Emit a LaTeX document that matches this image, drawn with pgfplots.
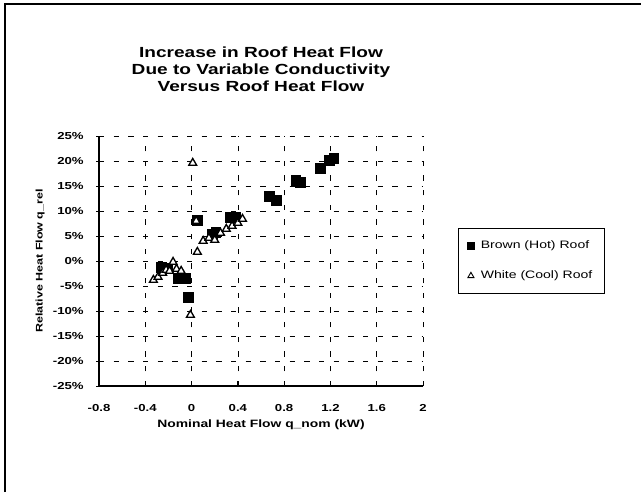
\documentclass[border=0pt]{standalone}
\usepackage{fontspec}
\setmainfont{Liberation Sans}[FakeStretch=1.3]
\usepackage{pgfplots}
\pgfplotsset{compat=1.18}
\begin{document}
\begin{tikzpicture}
    % page frame, 641x492 px at 0.75pt/px
    \path[use as bounding box] (0,0) rectangle (480.75pt,369pt);
    \draw[line width=1pt] (3.75pt,0) -- (3.75pt,366pt) -- (480.75pt,366pt);
    \begin{axis}[
        at = {(74.25pt,79.5pt)},
        anchor = south west,
        scale only axis,
        width = 243pt,
        height = 187.5pt,
        xmin = -0.8, xmax = 2,
        ymin = -25, ymax = 25,
        xtick = {-0.8,-0.4,0,0.4,0.8,1.2,1.6,2},
        xticklabels = {-0.8,-0.4,0,0.4,0.8,1.2,1.6,2},
        ytick = {-25,-20,...,25},
        yticklabels = {-25\%,-20\%,-15\%,-10\%,-5\%,0\%,5\%,10\%,15\%,20\%,25\%},
        axis x line* = bottom,
        axis y line* = left,
        x tick style = {black, line width=0.6pt},
        y tick style = {black, line width=0.6pt},
        xtick align = inside,
        ytick align = center,
        major tick length = 4pt,
        grid = major,
        major grid style = {black, line width=0.5pt, dash pattern=on 4pt off 7pt},
        axis line style = {line width=0.8pt},
        tick label style = {font=\bfseries\fontsize{7.6}{9}\selectfont},
        xticklabel style = {yshift=-10pt},
        yticklabel style = {xshift=-6pt},
        xlabel = {Nominal Heat Flow q\_nom (kW)},
        ylabel = {Relative Heat Flow q\_rel},
        xlabel style = {font=\bfseries\fontsize{8}{9}\selectfont,
                        at={(axis description cs:0.5,-0.156)}, anchor=center},
        ylabel style = {font=\bfseries\fontsize{7.2}{9}\selectfont,
                        at={(axis description cs:-0.182,0.5)}, anchor=center},
        title = {Increase in Roof Heat Flow\\Due to Variable Conductivity\\Versus Roof Heat Flow},
        title style = {font=\bfseries\fontsize{11}{12.8}\selectfont, align=center,
                       at={(0.5,1)}, anchor=south, yshift=24pt},
        legend style = {at={(1.108,0.632)}, anchor=north west, draw=black,
                        line width=0.6pt, font=\fontsize{8.1}{9.5}\selectfont,
                        inner xsep=7pt, inner ysep=7.5pt, row sep=11pt},
        legend cell align = left,
        clip = false,
    ]
        \addplot[only marks, mark=square*, mark size=3.6pt, black,
                 legend image post style={mark size=2.4pt}] coordinates {
            (-0.26,-1.2) (-0.21,-1.4) (-0.12,-3.4) (-0.05,-3.4) (-0.03,-7.3)
            (0.05,8.2) (0.18,5.4) (0.21,5.8) (0.33,8.8) (0.38,8.8)
            (0.67,13.0) (0.73,12.2) (0.90,16.2) (0.94,15.8)
            (1.11,18.6) (1.19,20.2) (1.23,20.6)
        };
        \addlegendentry{\hspace{3pt}Brown (Hot) Roof}
        \addplot[only marks, mark=triangle*, mark size=3.4pt, black,
                 mark options={fill=white, line width=1pt},
                 legend image post style={mark size=2.6pt, mark options={fill=white, line width=0.7pt}}] coordinates {
            (-0.33,-3.8) (-0.29,-3.2) (-0.25,-2.4) (-0.22,-1.8) (-0.19,-2.0)
            (-0.16,-0.2) (-0.13,-1.6) (-0.09,-2.0) (-0.01,-10.8) (0.01,19.6)
            (0.04,8.0) (0.05,1.8) (0.10,4.0) (0.15,4.6) (0.20,4.2)
            (0.25,5.6) (0.30,6.4) (0.35,7.0) (0.40,7.6) (0.44,8.4)
        };
        \addlegendentry{\hspace{3pt}White (Cool) Roof}
    \end{axis}
\end{tikzpicture}
\end{document}
